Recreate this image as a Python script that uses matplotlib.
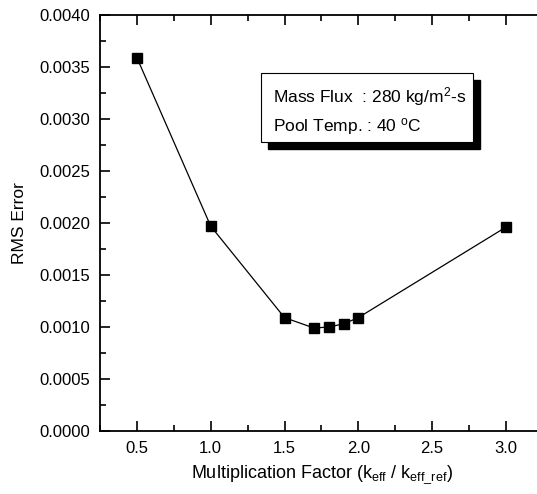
import numpy as np
import matplotlib
matplotlib.use("Agg")
import matplotlib.pyplot as plt
from matplotlib.patches import Rectangle
from matplotlib.ticker import MultipleLocator, FormatStrFormatter

plt.rcParams['font.family'] = ['Liberation Sans', 'DejaVu Sans']
plt.rcParams['mathtext.fontset'] = 'custom'
plt.rcParams['mathtext.rm'] = 'Liberation Sans'
plt.rcParams['mathtext.it'] = 'Liberation Sans'

# data
factor = [0.5, 1.0, 1.5, 1.7, 1.8, 1.9, 2.0, 3.0]
rms_error = [0.00359, 0.00197, 0.00109, 0.00099, 0.00100, 0.00103, 0.00109, 0.00196]

W, H = 537, 494
fig = plt.figure(figsize=(W / 100, H / 100), dpi=100)
# axes in pixels: left 100, right 550 (runs off the image), top 15, bottom 431
L, R, T, B = 100, 550, 15, 431
ax = fig.add_axes([L / W, (H - B) / H, (R - L) / W, (B - T) / H])

ax.plot(factor, rms_error, '-s', color='black', linewidth=0.9,
        markersize=7.2, markerfacecolor='black', markeredgecolor='black')

ax.set_xlim(0.25, 0.25 + (R - L) / 147.6)
ax.set_ylim(0, 0.004)
ax.xaxis.set_major_locator(MultipleLocator(0.5))
ax.xaxis.set_minor_locator(MultipleLocator(0.25))
ax.yaxis.set_major_locator(MultipleLocator(0.0005))
ax.yaxis.set_minor_locator(MultipleLocator(0.00025))
ax.xaxis.set_major_formatter(FormatStrFormatter('%.1f'))
ax.yaxis.set_major_formatter(FormatStrFormatter('%.4f'))

ax.tick_params(which='both', direction='in', top=True, right=False,
               labelsize=12, width=1.2, pad=7)
ax.tick_params(which='major', length=7.5)
ax.tick_params(which='minor', length=4.5)
for s in ['left', 'bottom', 'top']:
    ax.spines[s].set_linewidth(1.3)
ax.spines['right'].set_visible(False)

ax.set_xlabel(r'Multiplication Factor (k$_{\rm eff}$ / k$_{\rm eff\_ref}$)', fontsize=13)
ax.set_ylabel('RMS Error', fontsize=12.5)


# annotation box with drop shadow, placed in axes fraction
def fx(px):
    return (px - L) / (R - L)


def fy(py):
    return (B - py) / (B - T)


ax.xaxis.set_label_coords(fx(322), fy(475))
ax.xaxis.label.set_va('center')
ax.yaxis.set_label_coords(fx(20), fy(223))
ax.yaxis.label.set_va('center')

bx0, bx1, by0, by1 = 261, 473, 73, 142
off = 7
ax.add_patch(Rectangle((fx(bx0 + off), fy(by1 + off)), fx(bx1) - fx(bx0), fy(by0) - fy(by1),
                       transform=ax.transAxes, facecolor='black', edgecolor='black', zorder=5))
ax.add_patch(Rectangle((fx(bx0), fy(by1)), fx(bx1) - fx(bx0), fy(by0) - fy(by1),
                       transform=ax.transAxes, facecolor='white', edgecolor='black',
                       linewidth=0.8, zorder=6))
ax.text(fx(273), fy(102), r'Mass Flux  : 280 kg/m$^2$-s', transform=ax.transAxes,
        fontsize=12.5, va='baseline', zorder=7)
ax.text(fx(273), fy(131), r'Pool Temp. : 40 $^{\rm o}$C', transform=ax.transAxes,
        fontsize=12.5, va='baseline', zorder=7)

fig.savefig('out.png', dpi=100)
